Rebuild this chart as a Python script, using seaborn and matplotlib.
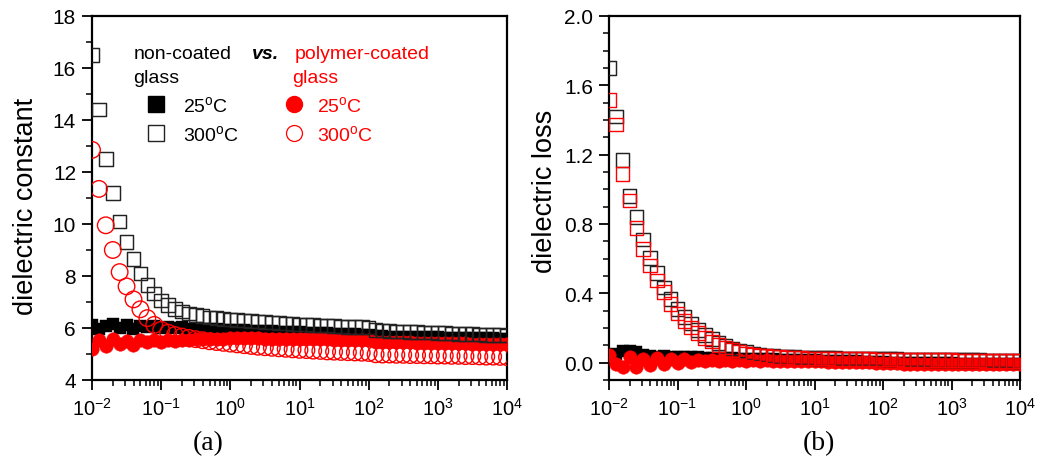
import matplotlib
matplotlib.use("Agg")
import matplotlib.pyplot as plt
from matplotlib.lines import Line2D
from matplotlib.ticker import MultipleLocator, LogLocator, NullFormatter
import seaborn as sns

# ---------------- data ----------------
freq_hz = [
    0.01, 0.0126, 0.0158, 0.02, 0.0251, 0.0316, 0.0398, 0.0501, 0.0631, 0.0794,
    0.1, 0.126, 0.158, 0.2, 0.251, 0.316, 0.398, 0.501, 0.631, 0.794,
    1, 1.26, 1.58, 2, 2.51, 3.16, 3.98, 5.01, 6.31, 7.94,
    10, 12.6, 15.8, 20, 25.1, 31.6, 39.8, 50.1, 63.1, 79.4,
    100, 126, 158, 200, 251, 316, 398, 501, 631, 794,
    1000, 1260, 1580, 2000, 2510, 3160, 3980, 5010, 6310, 7940,
    10000]

# (a) dielectric constant
eps_nc_25 = [
    6.12, 5.96, 6.08, 6.14, 6.00, 6.10, 5.97, 6.07, 6.02, 6.06,
    6.01, 6.04, 5.99, 6.02, 5.98, 6.00, 5.97, 5.96, 5.95, 5.94,
    5.93, 5.92, 5.91, 5.90, 5.89, 5.88, 5.87, 5.86, 5.85, 5.84,
    5.83, 5.82, 5.81, 5.80, 5.79, 5.78, 5.77, 5.76, 5.76, 5.75,
    5.75, 5.68, 5.68, 5.67, 5.67, 5.66, 5.66, 5.65, 5.65, 5.64,
    5.64, 5.63, 5.63, 5.62, 5.62, 5.61, 5.61, 5.60, 5.60, 5.59,
    5.59]
eps_pc_25 = [
    5.20, 5.55, 5.30, 5.58, 5.38, 5.50, 5.36, 5.52, 5.45, 5.55,
    5.48, 5.54, 5.50, 5.55, 5.53, 5.56, 5.57, 5.58, 5.58, 5.59,
    5.60, 5.60, 5.60, 5.60, 5.60, 5.59, 5.59, 5.59, 5.58, 5.58,
    5.58, 5.57, 5.57, 5.56, 5.56, 5.55, 5.55, 5.54, 5.54, 5.53,
    5.53, 5.47, 5.47, 5.46, 5.46, 5.45, 5.45, 5.44, 5.44, 5.43,
    5.43, 5.42, 5.42, 5.41, 5.41, 5.40, 5.40, 5.40, 5.39, 5.39,
    5.38]
eps_nc_300 = [
    16.5, 14.4, 12.5, 11.2, 10.1, 9.3, 8.65, 8.1, 7.65, 7.32,
    7.06, 6.88, 6.74, 6.64, 6.56, 6.50, 6.45, 6.41, 6.38, 6.35,
    6.33, 6.31, 6.29, 6.27, 6.25, 6.23, 6.21, 6.19, 6.17, 6.16,
    6.14, 6.13, 6.11, 6.10, 6.09, 6.07, 6.06, 6.05, 6.04, 6.03,
    6.02, 5.92, 5.90, 5.89, 5.87, 5.86, 5.85, 5.84, 5.83, 5.82,
    5.81, 5.80, 5.79, 5.78, 5.77, 5.76, 5.75, 5.74, 5.73, 5.72,
    5.71]
eps_pc_300 = [
    12.85, 11.35, 9.95, 9.0, 8.15, 7.6, 7.1, 6.72, 6.38, 6.12,
    5.93, 5.82, 5.73, 5.67, 5.62, 5.57, 5.53, 5.49, 5.46, 5.43,
    5.40, 5.37, 5.34, 5.31, 5.28, 5.26, 5.24, 5.22, 5.20, 5.18,
    5.16, 5.15, 5.13, 5.12, 5.10, 5.09, 5.08, 5.07, 5.06, 5.05,
    5.04, 4.99, 4.98, 4.98, 4.97, 4.97, 4.96, 4.96, 4.95, 4.95,
    4.94, 4.94, 4.93, 4.93, 4.92, 4.92, 4.91, 4.90, 4.90, 4.89,
    4.88]

# (b) dielectric loss
loss_nc_25 = [
    0.03, 0.05, 0.07, 0.07, 0.06, 0.045, 0.04, 0.035, 0.04, 0.035,
    0.033, 0.032, 0.031, 0.030, 0.029, 0.028, 0.027, 0.026, 0.025, 0.024,
    0.023, 0.022, 0.021, 0.020, 0.019, 0.018, 0.017, 0.016, 0.015, 0.014,
    0.013, 0.012, 0.011, 0.010, 0.009, 0.008, 0.007, 0.006, 0.005, 0.004,
    0.004, 0.000, 0.000, -0.001, -0.001, -0.002, -0.002, -0.003, -0.003, -0.004,
    -0.004, -0.005, -0.005, -0.006, -0.006, -0.007, -0.007, -0.008, -0.008, -0.009,
    -0.009]
loss_pc_25 = [
    0.045, -0.010, -0.025, 0.030, -0.025, 0.020, -0.015, 0.025, -0.005, 0.020,
    0.000, 0.020, 0.005, 0.018, 0.008, 0.017, 0.010, 0.016, 0.012, 0.015,
    0.012, 0.014, 0.011, 0.013, 0.010, 0.012, 0.009, 0.011, 0.008, 0.010,
    0.007, 0.008, 0.006, 0.006, 0.005, 0.004, 0.003, 0.002, 0.001, 0.000,
    -0.001, -0.004, -0.004, -0.005, -0.005, -0.006, -0.006, -0.006, -0.007, -0.007,
    -0.007, -0.008, -0.008, -0.008, -0.009, -0.009, -0.009, -0.010, -0.010, -0.010,
    -0.010]
loss_nc_300 = [
    1.70, 1.42, 1.17, 0.96, 0.84, 0.71, 0.605, 0.517, 0.434, 0.367,
    0.309, 0.263, 0.225, 0.190, 0.161, 0.135, 0.115, 0.097, 0.082, 0.070,
    0.060, 0.052, 0.046, 0.041, 0.038, 0.035, 0.033, 0.031, 0.030, 0.029,
    0.028, 0.027, 0.026, 0.026, 0.025, 0.025, 0.024, 0.024, 0.023, 0.023,
    0.022, 0.020, 0.020, 0.019, 0.019, 0.018, 0.018, 0.017, 0.017, 0.016,
    0.016, 0.015, 0.015, 0.014, 0.014, 0.013, 0.013, 0.012, 0.012, 0.011,
    0.011]
loss_pc_300 = [
    1.517, 1.373, 1.088, 0.935, 0.777, 0.656, 0.561, 0.473, 0.406, 0.340,
    0.283, 0.240, 0.202, 0.170, 0.143, 0.121, 0.102, 0.087, 0.074, 0.063,
    0.054, 0.047, 0.041, 0.037, 0.034, 0.031, 0.029, 0.027, 0.026, 0.025,
    0.024, 0.023, 0.023, 0.022, 0.022, 0.021, 0.021, 0.020, 0.020, 0.019,
    0.019, 0.018, 0.018, 0.017, 0.017, 0.016, 0.016, 0.015, 0.015, 0.014,
    0.014, 0.013, 0.013, 0.012, 0.012, 0.011, 0.011, 0.010, 0.010, 0.010,
    0.009]

legend_labels = ["25$^{\\mathregular{o}}$C", "300$^{\\mathregular{o}}$C"]
x_ticks = [1e-2, 1e-1, 1e0, 1e1, 1e2, 1e3, 1e4]

# ---------------- style ----------------
sns.set_style("ticks")
plt.rcParams.update({
    "font.family": ["Liberation Sans", "DejaVu Sans"],
    "mathtext.fontset": "custom",
    "mathtext.rm": "Liberation Sans",
    "mathtext.it": "Liberation Sans:italic",
    "mathtext.bf": "Liberation Sans:bold",
    "axes.edgecolor": "black",
    "axes.linewidth": 1.6,
    "xtick.color": "black",
    "ytick.color": "black",
    "text.color": "black",
})

RED = "#ff0000"
W, H = 1046, 464
fig = plt.figure(figsize=(W / 100, H / 100), dpi=100)
axA = fig.add_axes([92 / W, 1 - 381 / H, 415 / W, 364 / H])
axB = fig.add_axes([609 / W, 1 - 381 / H, 411 / W, 364 / H])

S_FILL_SQ = 78
S_FILL_CI = 95
S_SQ = 96
S_CI = 142


def draw(ax, y25_nc, y25_pc, y300_nc, y300_pc, open_marker_pc, s_open_pc):
    sns.scatterplot(x=freq_hz, y=y25_nc, ax=ax, marker="s", s=S_FILL_SQ,
                    facecolor="black", edgecolor="black", linewidth=0.3, zorder=2)
    sns.scatterplot(x=freq_hz, y=y25_pc, ax=ax, marker="o", s=S_FILL_CI,
                    facecolor=RED, edgecolor=RED, linewidth=0.3, zorder=3)
    sns.scatterplot(x=freq_hz, y=y300_nc, ax=ax, marker="s", s=S_SQ,
                    facecolor="none", edgecolor="#222222", linewidth=1.05, zorder=4)
    sns.scatterplot(x=freq_hz, y=y300_pc, ax=ax, marker=open_marker_pc, s=s_open_pc,
                    facecolor="none", edgecolor=RED, linewidth=1.0, zorder=5)
    ax.set_xscale("log")
    ax.set_xlim(1e-2, 1e4)
    ax.set_xticks(x_ticks)
    ax.xaxis.set_minor_locator(LogLocator(base=10, subs=range(2, 10), numticks=20))
    ax.xaxis.set_minor_formatter(NullFormatter())
    ax.tick_params(axis="both", which="major", direction="out", length=7.5,
                   width=1.3, labelsize=15, pad=4, top=False, right=False)
    ax.tick_params(axis="both", which="minor", direction="out", length=4,
                   width=1.1, top=False, right=False)
    ax.tick_params(axis="x", which="major", labelsize=14.5, pad=5)
    for sp in ax.spines.values():
        sp.set_visible(True)
        sp.set_linewidth(1.6)
        sp.set_color("black")
    ax.set_xlabel("")
    ax.set_ylabel("")


draw(axA, eps_nc_25, eps_pc_25, eps_nc_300, eps_pc_300, "o", S_CI)
axA.set_ylim(4, 18)
axA.yaxis.set_major_locator(MultipleLocator(2))
axA.yaxis.set_minor_locator(MultipleLocator(1))

draw(axB, loss_nc_25, loss_pc_25, loss_nc_300, loss_pc_300, "s", S_SQ)
axB.set_ylim(-0.1, 2.0)
axB.yaxis.set_major_locator(MultipleLocator(0.4))
axB.yaxis.set_minor_locator(MultipleLocator(0.1))
axB.yaxis.set_major_formatter(plt.FuncFormatter(lambda v, p: f"{v:.1f}"))

# y labels
fig.text(33 / W, 1 - 206 / H, "dielectric constant", rotation=90,
         rotation_mode="anchor", ha="center", va="baseline", fontsize=19.5)
fig.text(552 / W, 1 - 191.5 / H, "dielectric loss", rotation=90,
         rotation_mode="anchor", ha="center", va="baseline", fontsize=19.5)

# captions
fig.text(207.7 / W, 1 - 444 / H, "(a)", family="Liberation Serif",
         fontsize=20, ha="center", va="center")
fig.text(819 / W, 1 - 444 / H, "(b)", family="Liberation Serif",
         fontsize=20, ha="center", va="center")


# legend-style annotations in panel (a)
def afx(px):
    return (px - 92) / 415


def afy(py):
    return (381 - py) / 364


FS = 14
axA.text(afx(133.3), afy(59.3), "non-coated", transform=axA.transAxes,
         fontsize=FS, va="baseline", ha="left")
axA.text(afx(133.3), afy(82.7), "glass", transform=axA.transAxes,
         fontsize=FS, va="baseline", ha="left")
axA.text(afx(251.7), afy(59.3), "vs.", transform=axA.transAxes,
         fontsize=FS, va="baseline", ha="left", fontweight="bold", fontstyle="italic")
axA.text(afx(295), afy(59.3), "polymer-coated", transform=axA.transAxes,
         fontsize=FS, va="baseline", ha="left", color=RED)
axA.text(afx(292.3), afy(82.7), "glass", transform=axA.transAxes,
         fontsize=FS, va="baseline", ha="left", color=RED)

h_nc = [Line2D([], [], ls="", marker="s", ms=11, mfc="black", mec="black"),
        Line2D([], [], ls="", marker="s", ms=11, mfc="white", mec="#222222", mew=1.0)]
h_pc = [Line2D([], [], ls="", marker="o", ms=11.5, mfc=RED, mec=RED),
        Line2D([], [], ls="", marker="o", ms=11.5, mfc="white", mec=RED, mew=0.9)]

leg1 = axA.legend(h_nc, legend_labels, loc="center left",
                  bbox_to_anchor=(afx(146), afy(120.5)), frameon=False,
                  fontsize=FS, handlelength=1.0, handletextpad=0.92,
                  borderpad=0, borderaxespad=0, labelspacing=0.45)
axA.add_artist(leg1)
leg2 = axA.legend(h_pc, legend_labels, loc="center left",
                  bbox_to_anchor=(afx(284.6), afy(120.5)), frameon=False,
                  fontsize=FS, handlelength=1.0, handletextpad=0.65,
                  borderpad=0, borderaxespad=0, labelspacing=0.45,
                  labelcolor=RED)

fig.savefig("out.png", dpi=100)
